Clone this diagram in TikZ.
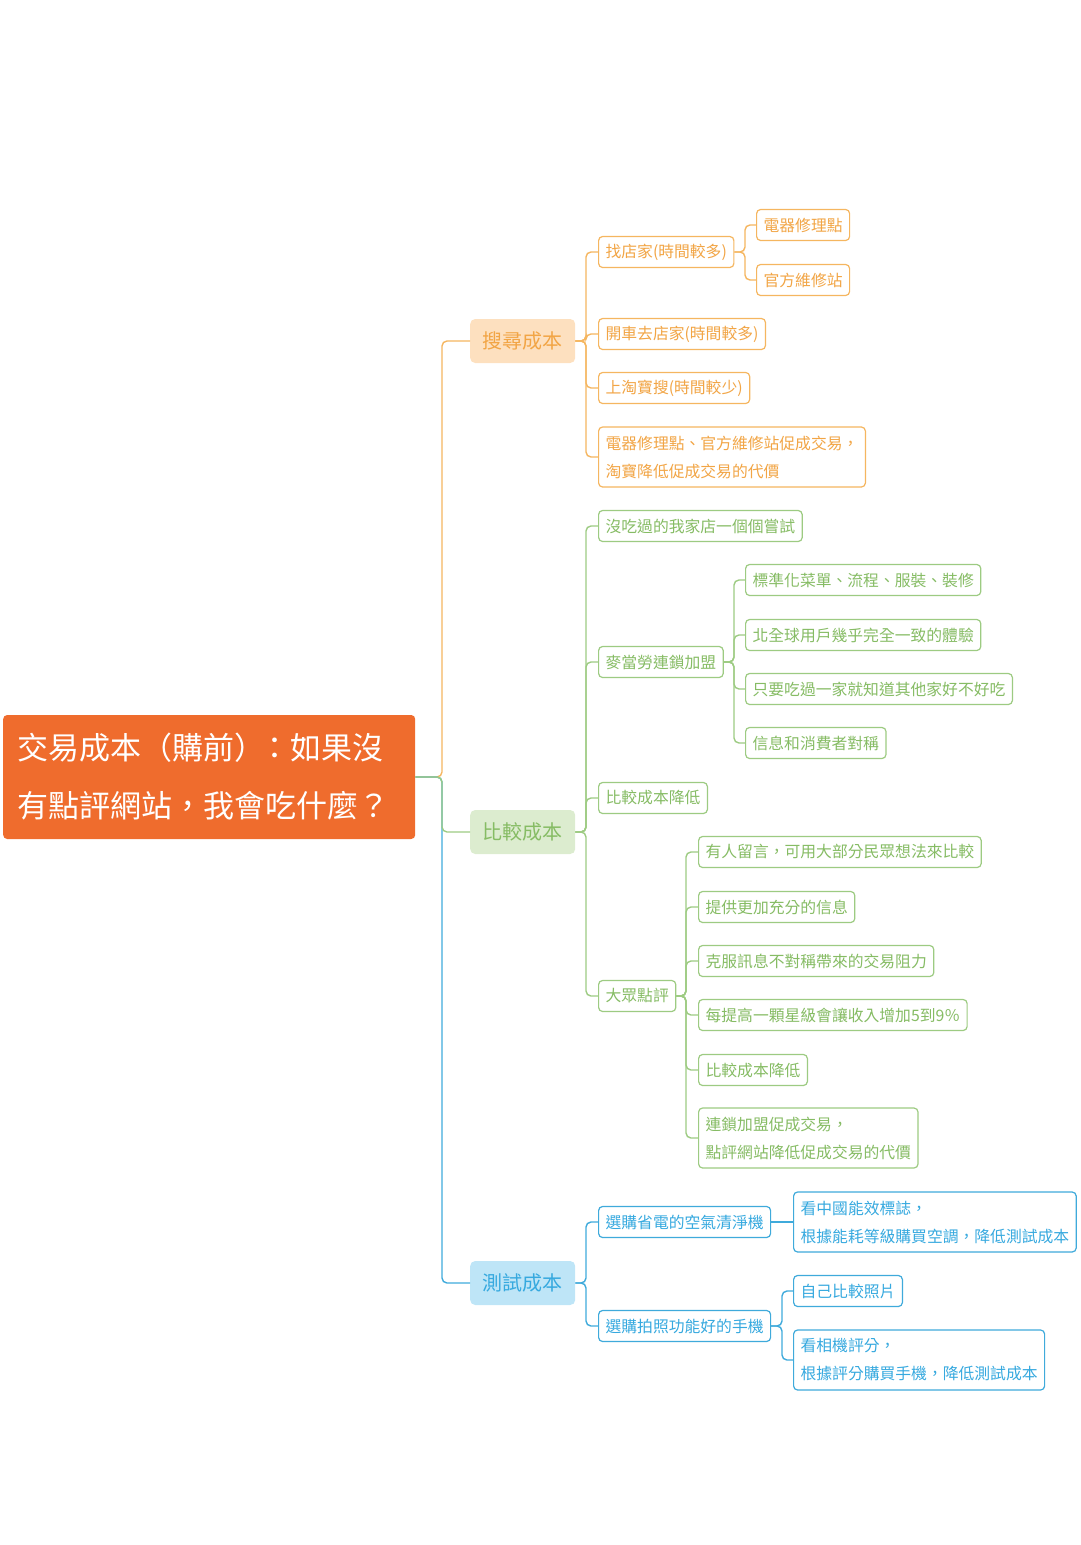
\documentclass[tikz,border=0pt]{standalone}
\usepackage{fontspec}
\setmainfont{Noto Sans CJK TC}

\definecolor{rootfill}{HTML}{EF6C2D}
\definecolor{orline}{HTML}{F5B660}
\definecolor{ortext}{HTML}{F2A545}
\definecolor{orfill}{HTML}{FDE0BF}
\definecolor{grline}{HTML}{9DCB82}
\definecolor{grtext}{HTML}{86BC64}
\definecolor{grfill}{HTML}{DCECCF}
\definecolor{blline}{HTML}{3FAADB}
\definecolor{bltext}{HTML}{36A9DF}
\definecolor{blfill}{HTML}{BEE5F7}

\tikzset{
	root/.style={anchor=west, fill=rootfill, text=white, rounded corners=4pt,
		text width=384pt, inner xsep=14pt, inner ysep=0pt, minimum height=124pt,
		align=left, font=\fontsize{31}{58}\selectfont},
	topic/.style={anchor=west, fill=#1fill, text=#1text, rounded corners=5pt,
		minimum width=105pt, minimum height=44pt, inner sep=0pt,
		font=\fontsize{20}{24}\selectfont},
	leaf/.style={anchor=west, draw=#1line, text=#1text, fill=white, rounded corners=4pt,
		line width=1.2pt, inner xsep=7pt, inner ysep=3pt, minimum height=31pt,
		align=left, font=\fontsize{15.8}{28}\selectfont},
	twoline/.style={leaf=#1, minimum height=60pt},
	link/.style={line width=1.4pt, rounded corners=5pt},
}

% #1 gap before child, #2 colour, #3 parent, #4 child
\newcommand{\branch}[4][12pt]{
	\draw[link, #2] (#3.east) -| ([xshift=-#1]#4.west) -- (#4.west);
}

\begin{document}
\begin{tikzpicture}[x=1pt, y=-1pt]
\useasboundingbox (0,0) rectangle (1080,1545);

\node[root] (root) at (3,777) {\raisebox{-3pt}{交易成本（購前）\kern-6pt：如果沒}\\\raisebox{-3pt}{有點評網站，我會吃什麼？}};

% search cost
\node[topic=or] (search) at (470,341) {搜尋成本};
\node[leaf=or] (findshop) at (598,252) {找店家(時間較多)};
\node[leaf=or] (repair) at (756,225) {電器修理點};
\node[leaf=or] (official) at (756,280) {官方維修站};
\node[leaf=or] (drive) at (598,334) {開車去店家(時間較多)};
\node[leaf=or] (taobao) at (598,388) {上淘寶搜(時間較少)};
\node[twoline=or] (searchsum) at (598,457) {電器修理點、官方維修站促成交易，\\淘寶降低促成交易的代價};

% compare cost
\node[topic=gr] (compare) at (470,832) {比較成本};
\node[leaf=gr] (untried) at (598,526) {沒吃過的我家店一個個嘗試};
\node[leaf=gr] (mcd) at (598,662) {麥當勞連鎖加盟};
\node[leaf=gr] (menu) at (745,580) {標準化菜單、流程、服裝、裝修};
\node[leaf=gr] (same) at (745,635) {北全球用戶幾乎完全一致的體驗};
\node[leaf=gr] (onetry) at (745,689) {只要吃過一家就知道其他家好不好吃};
\node[leaf=gr] (sym) at (745,743) {信息和消費者對稱};
\node[leaf=gr] (lowera) at (598,798) {比較成本降低};
\node[leaf=gr] (dianping) at (598,996) {大眾點評};
\node[leaf=gr] (comment) at (698,852) {有人留言，可用大部分民眾想法來比較};
\node[leaf=gr] (moreinfo) at (698,907) {提供更加充分的信息};
\node[leaf=gr] (overcome) at (698,961) {克服訊息不對稱帶來的交易阻力};
\node[leaf=gr] (star) at (698,1015) {每提高一顆星級會讓收入增加5到9％};
\node[leaf=gr] (lowerb) at (698,1070) {比較成本降低};
\node[twoline=gr] (comparesum) at (698,1138) {連鎖加盟促成交易，\\點評網站降低促成交易的代價};

% test cost
\node[topic=bl] (test) at (470,1283) {測試成本};
\node[leaf=bl] (purifier) at (598,1222) {選購省電的空氣清淨機};
\node[twoline=bl] (energy) at (793,1222) {看中國能效標誌，\\根據能耗等級購買空調，降低測試成本};
\node[leaf=bl] (phone) at (598,1326) {選購拍照功能好的手機};
\node[leaf=bl] (photo) at (793,1291) {自己比較照片};
\node[twoline=bl] (rating) at (793,1360) {看相機評分，\\根據評分購買手機，降低測試成本};

\branch[28pt]{orline}{root}{search}
\branch[28pt]{blline}{root}{test}
\branch[28pt]{grline}{root}{compare}

\foreach \c in {findshop, drive, taobao, searchsum}
	{\branch{orline}{search}{\c}}
\branch[11pt]{orline}{findshop}{repair}
\branch[11pt]{orline}{findshop}{official}

\foreach \c in {untried, mcd, lowera, dianping}
	{\branch{grline}{compare}{\c}}
\foreach \c in {menu, same, onetry, sym}
	{\branch[11pt]{grline}{mcd}{\c}}
\foreach \c in {comment, moreinfo, overcome, star, lowerb, comparesum}
	{\branch{grline}{dianping}{\c}}

\foreach \c in {purifier, phone}
	{\branch{blline}{test}{\c}}
\draw[link, blline] (purifier) -- (energy);
\foreach \c in {photo, rating}
	{\branch[11pt]{blline}{phone}{\c}}
\end{tikzpicture}
\end{document}
